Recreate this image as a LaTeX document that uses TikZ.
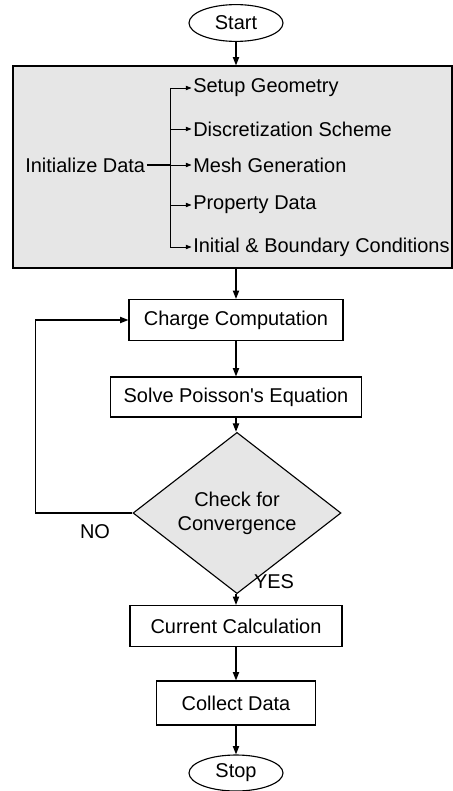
\documentclass[tikz,border=0pt]{standalone}
\usepackage{fontspec}
\setmainfont{Liberation Sans}[Ligatures=TeXOff]
\usepackage{xcolor}
\usepackage{tikz}
\usetikzlibrary{shapes.geometric, arrows.meta, positioning, calc}
\definecolor{grpfill}{HTML}{E6E6E6}
\definecolor{lnk}{HTML}{000000}
\tikzset{
  blk/.style={rectangle, draw=lnk, line width=0.8pt, align=center, font=\fontsize{14.2}{17}\selectfont, inner sep=2pt},
  proc/.style={blk, fill=white, minimum height=1.025cm},
  term/.style={ellipse, draw=lnk, line width=0.8pt, fill=white, font=\fontsize{14.2}{17}\selectfont, minimum width=2.35cm, minimum height=0.92cm, inner sep=0pt},
  decision/.style={diamond, draw=lnk, fill=grpfill, line width=0.8pt, align=center, font=\fontsize{14.2}{17}\selectfont, inner sep=0pt, minimum width=5.2cm, minimum height=2.8cm},
  grp/.style={rectangle, draw=lnk, fill=grpfill, line width=0.8pt, minimum width=10.975cm, minimum height=5.05cm},
  item/.style={font=\fontsize{14.2}{17}\selectfont, anchor=west, inner sep=0pt},
  lab/.style={font=\fontsize{14.2}{17}\selectfont, inner sep=0pt},
  arr/.style={-{Triangle[length=6pt, width=4.5pt]}, line width=0.8pt, draw=lnk},
  arrsm/.style={-{Triangle[length=4pt, width=3pt]}, line width=0.7pt, draw=lnk},
}
\begin{document}
\begin{tikzpicture}
  \useasboundingbox (0,0) rectangle (11.325,-19.775);
  \node[term] (start) at (5.9,-0.575) {Start};
  \node[grp] (init) at (5.8125,-4.175) {};
  \node[item] (initd) at (0.625,-4.125) {Initialize Data};
  \coordinate (fork) at (4.25,-4.125);
  \node[item] (geo)  at (4.825,-2.2)   {Setup Geometry};
  \node[item] (disc) at (4.825,-3.225) {Discretization Scheme};
  \node[item] (mesh) at (4.825,-4.125) {Mesh Generation};
  \node[item] (prop) at (4.825,-5.125) {Property Data};
  \node[item] (bc)   at (4.825,-6.175) {Initial \& Boundary Conditions};
  \draw[line width=0.8pt] ([xshift=1pt]initd.east) -- (fork);
  \draw[line width=0.7pt] (fork |- geo.west) -- (fork |- bc.west);
  \foreach \n in {geo, disc, mesh, prop, bc}
    \draw[arrsm] (fork |- \n.west) -- ([xshift=-1pt]\n.west);
  \node[proc, minimum width=5.35cm] (charge) at (5.9,-8.0)    {Charge Computation};
  \node[proc, minimum width=6.275cm, minimum height=1.0cm] (solve) at (5.9,-9.925) {Solve Poisson's Equation};
  \node[decision] (check) at (5.925,-12.825) {Check for\\Convergence};
  \node[proc, minimum width=5.3cm] (curr) at (5.9,-15.65)   {Current Calculation};
  \node[proc, minimum width=3.975cm, minimum height=1.1cm] (coll) at (5.9,-17.575) {Collect Data};
  \node[term, minimum height=0.9cm] (stop) at (5.9,-19.325) {Stop};
  \draw[arr] (start) -- (start |- init.north);
  \draw[arr] (start |- init.south) -- (charge);
  \draw[arr] (charge) -- (solve);
  \draw[arr] (solve) -- (check.north -| solve.south);
  \draw[arr] (check.west) -- ++(-2.425,0) |- (charge.west);
  \draw[arr] (check.south -| curr.north) -- (curr);
  \draw[arr] (curr) -- (coll);
  \draw[arr] (coll) -- (stop);
  \node[lab] (no)  at (2.375,-13.3)  {NO};
  \node[lab] (yes) at (6.85,-14.55) {YES};
\end{tikzpicture}
\end{document}
